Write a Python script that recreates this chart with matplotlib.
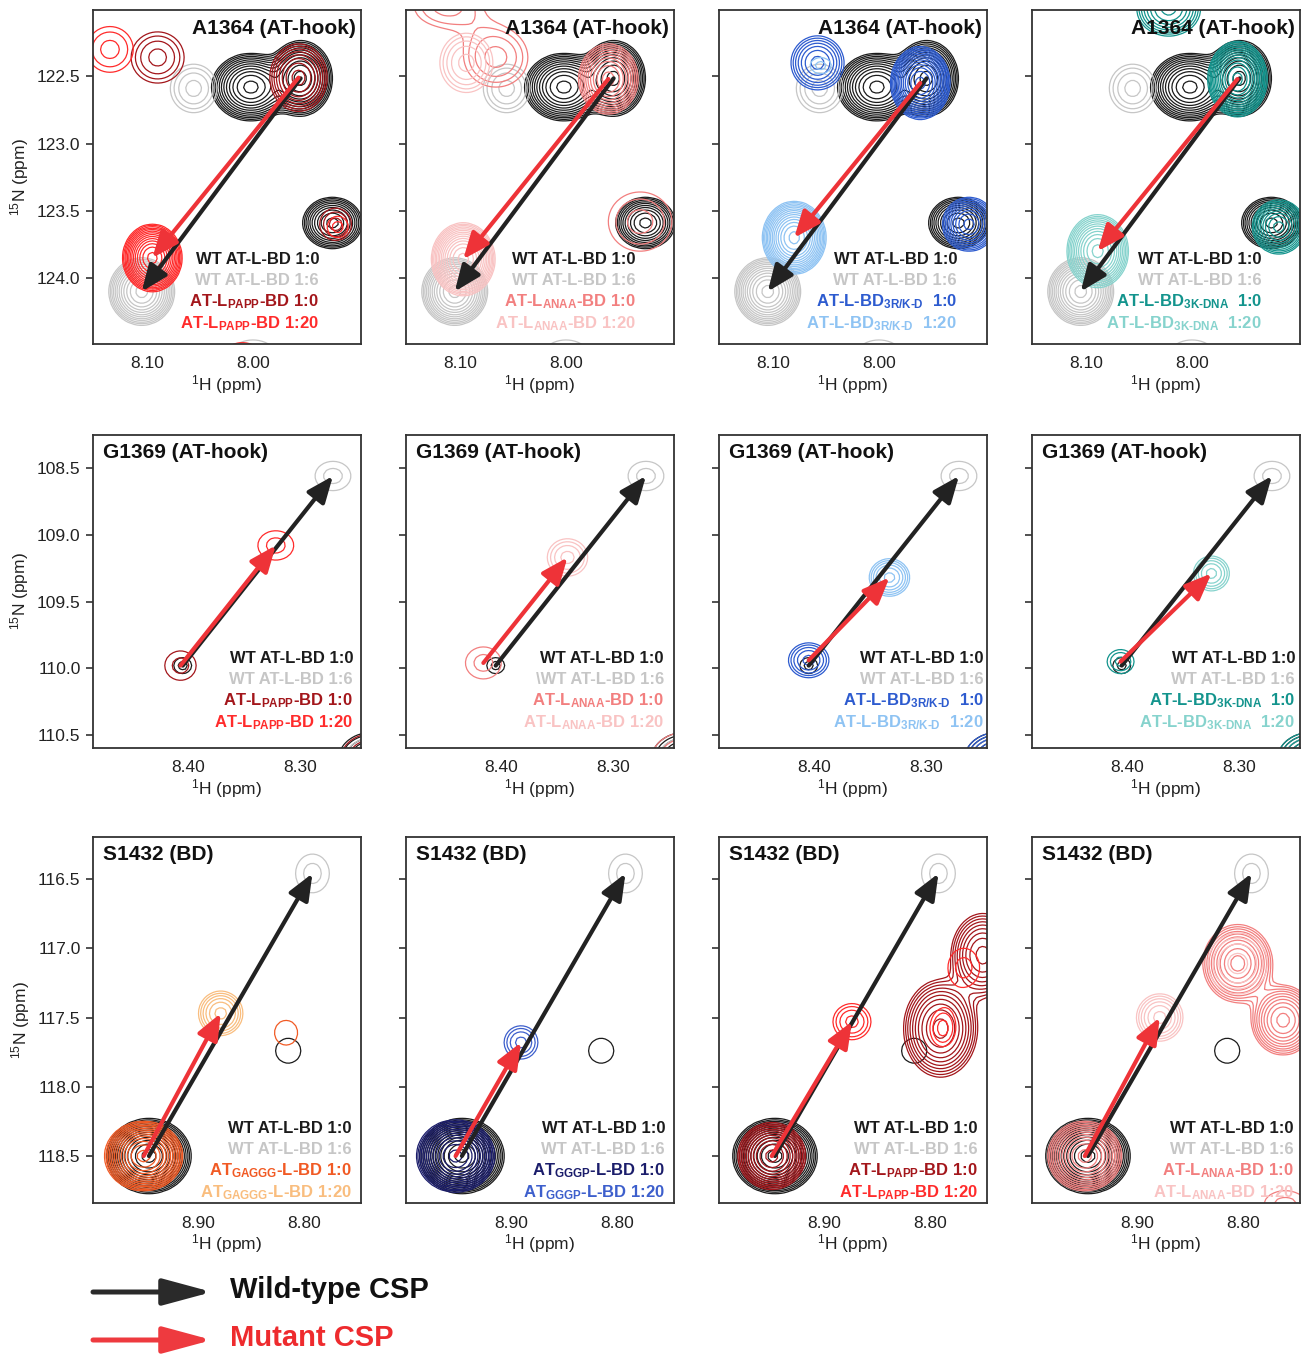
import numpy as np
import matplotlib.pyplot as plt
from matplotlib.patches import ArrowStyle

plt.rcParams['font.family'] = ['Liberation Sans', 'DejaVu Sans']
plt.rcParams['mathtext.fontset'] = 'custom'
plt.rcParams['mathtext.rm'] = 'Liberation Sans:bold'
plt.rcParams['mathtext.bf'] = 'Liberation Sans:bold'
plt.rcParams['mathtext.it'] = 'Liberation Sans:bold:italic'

# peaks: (1H ppm, 15N ppm, half-width 1H, half-width 15N, number of contours)
# first peak of each list is the tracked residue (arrow end points)
A1364_WT0 = [(7.955, 122.515, 0.030, 0.28, 12), (8.002, 122.58, 0.037, 0.25, 12),
             (7.925, 123.59, 0.028, 0.19, 10)]
A1364_WT6 = [(8.105, 124.10, 0.031, 0.25, 12), (8.056, 122.59, 0.022, 0.18, 4),
             (8.000, 124.62, 0.025, 0.16, 3)]
A1364_PAPP0 = [(7.957, 122.51, 0.027, 0.25, 8), (8.090, 122.36, 0.025, 0.19, 4),
               (7.922, 123.60, 0.015, 0.12, 3)]
A1364_PAPP20 = [(8.095, 123.85, 0.028, 0.25, 14), (8.135, 122.30, 0.022, 0.17, 3),
                (7.920, 123.62, 0.010, 0.08, 2), (8.010, 124.60, 0.020, 0.12, 2)]
A1364_ANAA0 = [(7.960, 122.52, 0.028, 0.26, 10), (8.066, 122.36, 0.030, 0.22, 4),
               (8.113, 121.98, 0.030, 0.15, 3), (7.930, 123.58, 0.030, 0.22, 3)]
A1364_ANAA20 = [(8.097, 123.86, 0.030, 0.27, 14), (8.094, 122.40, 0.025, 0.22, 5)]
A1364_RKD0 = [(7.961, 122.55, 0.028, 0.27, 14), (8.058, 122.40, 0.025, 0.20, 7),
              (7.915, 123.60, 0.025, 0.20, 10)]
A1364_RKD20 = [(8.080, 123.70, 0.030, 0.27, 14), (8.055, 122.42, 0.010, 0.06, 2)]
A1364_KDNA0 = [(7.957, 122.52, 0.028, 0.28, 14), (8.022, 122.00, 0.030, 0.20, 8),
               (7.918, 123.62, 0.025, 0.20, 10)]
A1364_KDNA20 = [(8.089, 123.80, 0.029, 0.27, 12)]

G1369_WT0 = [(8.405, 109.98, 0.008, 0.06, 2), (8.236, 110.68, 0.030, 0.20, 6)]
G1369_WT6 = [(8.271, 108.56, 0.016, 0.11, 2), (8.236, 110.70, 0.025, 0.18, 3)]
G1369_PAPP0 = [(8.407, 109.98, 0.014, 0.11, 2), (8.236, 110.68, 0.028, 0.19, 3)]
G1369_PAPP20 = [(8.322, 109.08, 0.016, 0.11, 2)]
G1369_ANAA0 = [(8.416, 109.96, 0.016, 0.12, 2), (8.236, 110.68, 0.030, 0.20, 3)]
G1369_ANAA20 = [(8.341, 109.17, 0.018, 0.14, 4)]
G1369_RKD0 = [(8.405, 109.94, 0.018, 0.13, 5), (8.236, 110.68, 0.030, 0.20, 6)]
G1369_RKD20 = [(8.333, 109.32, 0.018, 0.14, 6)]
G1369_KDNA0 = [(8.406, 109.95, 0.012, 0.09, 3), (8.236, 110.68, 0.030, 0.20, 6)]
G1369_KDNA20 = [(8.325, 109.29, 0.016, 0.13, 5)]

S1432_WT0 = [(8.947, 118.50, 0.040, 0.27, 14), (8.815, 117.74, 0.012, 0.09, 1)]
S1432_WT6 = [(8.792, 116.46, 0.016, 0.14, 2)]
S1432_GAGGG0 = [(8.952, 118.50, 0.037, 0.25, 14), (8.817, 117.61, 0.011, 0.09, 1)]
S1432_GAGGG20 = [(8.879, 117.47, 0.021, 0.16, 6)]
S1432_GGGP0 = [(8.953, 118.50, 0.037, 0.26, 14)]
S1432_GGGP20 = [(8.891, 117.68, 0.016, 0.12, 4)]
S1432_PAPP0 = [(8.950, 118.50, 0.032, 0.24, 12), (8.790, 117.58, 0.035, 0.35, 10),
               (8.750, 117.05, 0.030, 0.30, 9)]
S1432_PAPP20 = [(8.874, 117.53, 0.018, 0.13, 4), (8.788, 117.58, 0.012, 0.13, 3),
                (8.768, 117.14, 0.015, 0.14, 2)]
S1432_ANAA0 = [(8.950, 118.50, 0.035, 0.25, 12), (8.805, 117.11, 0.033, 0.28, 10),
               (8.762, 117.52, 0.030, 0.25, 10), (8.760, 118.85, 0.020, 0.10, 2)]
S1432_ANAA20 = [(8.879, 117.50, 0.022, 0.17, 6), (8.805, 117.11, 0.028, 0.22, 4)]

residues = ['A1364 (AT-hook)', 'G1369 (AT-hook)', 'S1432 (BD)']
row_xlim = [(8.151, 7.898), (8.485, 8.246), (9.000, 8.746)]
row_ylim = [(124.49, 122.007), (110.597, 108.253), (118.839, 116.197)]
row_xticks = [[8.10, 8.00], [8.40, 8.30], [8.90, 8.80]]
row_yticks = [[122.5, 123.0, 123.5, 124.0], [108.5, 109.0, 109.5, 110.0, 110.5],
              [116.5, 117.0, 117.5, 118.0, 118.5]]

BLACK, GRAY = '#1b1b1b', '#c6c6c6'
col_papp = ('#a3161b', '#ff2b2b')
col_anaa = ('#f27f7f', '#f9c3c3')
col_rkd = ('#2d5bcf', '#8ec3f3')
col_kdna = ('#13948d', '#86d3cd')
col_gaggg = ('#f15a24', '#f9bd7e')
col_gggp = ('#1b1d6b', '#3d5fcc')

lab_papp = 'AT-L$_{\\text{PAPP}}$-BD'
lab_anaa = 'AT-L$_{\\text{ANAA}}$-BD'
lab_rkd = 'AT-L-BD$_{\\text{3R/K-D}}$ '
lab_kdna = 'AT-L-BD$_{\\text{3K-DNA}}$ '
lab_gaggg = 'AT$_{\\text{GAGGG}}$-L-BD'
lab_gggp = 'AT$_{\\text{GGGP}}$-L-BD'

wt_peaks = [(A1364_WT0, A1364_WT6), (G1369_WT0, G1369_WT6), (S1432_WT0, S1432_WT6)]
mutants = [
    [(A1364_PAPP0, A1364_PAPP20, col_papp, lab_papp), (A1364_ANAA0, A1364_ANAA20, col_anaa, lab_anaa),
     (A1364_RKD0, A1364_RKD20, col_rkd, lab_rkd), (A1364_KDNA0, A1364_KDNA20, col_kdna, lab_kdna)],
    [(G1369_PAPP0, G1369_PAPP20, col_papp, lab_papp), (G1369_ANAA0, G1369_ANAA20, col_anaa, lab_anaa),
     (G1369_RKD0, G1369_RKD20, col_rkd, lab_rkd), (G1369_KDNA0, G1369_KDNA20, col_kdna, lab_kdna)],
    [(S1432_GAGGG0, S1432_GAGGG20, col_gaggg, lab_gaggg), (S1432_GGGP0, S1432_GGGP20, col_gggp, lab_gggp),
     (S1432_PAPP0, S1432_PAPP20, col_papp, lab_papp), (S1432_ANAA0, S1432_ANAA20, col_anaa, lab_anaa)],
]

Q = 1.28
LEVELS = Q ** np.arange(0, 30)


def spectrum(peaks, X, Y):
    Z = np.zeros_like(X)
    for x0, y0, rx, ry, n in peaks:
        a = Q ** (n - 1) * 1.1
        k = np.sqrt(2 * np.log(a))
        Z += a * np.exp(-0.5 * (((X - x0) * k / rx) ** 2 + ((Y - y0) * k / ry) ** 2))
    return Z


def csp_arrow(ax, p0, p1, color):
    ax.annotate('', xy=(p1[0], p1[1]), xytext=(p0[0], p0[1]), zorder=6,
                arrowprops=dict(arrowstyle=ArrowStyle('-|>', head_length=0.8, head_width=0.33),
                                mutation_scale=20, lw=3, color=color, shrinkA=0, shrinkB=0))


W, H = 1304, 1355
fig = plt.figure(figsize=(W / 100, H / 100), dpi=100)
col_left = [93, 406, 719, 1032]
col_w = 268
row_top = [10, 435, 837]
row_bot = [344, 748, 1203]
leg_right = [[42, 38, 30, 38], [8, 10, 3, 5], [9, 9, 9, 6]]
leg_top = [248, 222, 290]

for r in range(3):
    h = row_bot[r] - row_top[r]
    wt0, wt6 = wt_peaks[r]
    for c in range(4):
        ax = fig.add_axes([col_left[c] / W, 1 - row_bot[r] / H, col_w / W, h / H])
        x0, x1 = row_xlim[r]
        y0, y1 = row_ylim[r]
        xs = np.linspace(x0 + 0.03, x1 - 0.03, 110)
        ys = np.linspace(y0 + 0.3, y1 - 0.3, 110)
        X, Y = np.meshgrid(xs, ys)
        m0, m20, mcol, mlab = mutants[r][c]
        for peaks, col in [(wt0, BLACK), (wt6, GRAY), (m0, mcol[0]), (m20, mcol[1])]:
            ax.contour(X, Y, spectrum(peaks, X, Y), levels=LEVELS, colors=col, linewidths=0.9)
        csp_arrow(ax, wt0[0], wt6[0], '#222222')
        csp_arrow(ax, m0[0], m20[0], '#ee3338')

        ax.set_xlim(x0, x1)
        ax.set_ylim(y0, y1)
        ax.set_xticks(row_xticks[r])
        ax.set_xticklabels(['%.2f' % v for v in row_xticks[r]])
        ax.set_yticks(row_yticks[r])
        ax.set_yticklabels(['%.1f' % v for v in row_yticks[r]])
        ax.tick_params(axis='x', length=0, pad=9, labelsize=12.5, colors='#222222')
        ax.tick_params(axis='y', length=5, width=1.1, pad=4, labelsize=12.5, colors='#222222',
                       labelleft=(c == 0))
        for s in ax.spines.values():
            s.set_linewidth(1.3)
            s.set_color('#333333')
        ax.set_xlabel('$^{\\mathregular{1}}$H (ppm)', fontsize=12.5, labelpad=1, color='#222222')
        if c == 0:
            ax.set_ylabel('$^{\\mathregular{15}}$N (ppm)', fontsize=12.5, labelpad=4, color='#222222')

        if r == 0:
            ax.text(1 - 5 / col_w, 1 - 18 / h, residues[r], transform=ax.transAxes, ha='right',
                    va='center', fontsize=15, fontweight='bold', color='#111111', zorder=7)
        else:
            ax.text(10 / col_w, 1 - 18 / h, residues[r], transform=ax.transAxes, ha='left',
                    va='center', fontsize=15, fontweight='bold', color='#111111', zorder=7)

        wt6_lab = '\\WT AT-L-BD 1:6' if (r == 1 and c == 1) else 'WT AT-L-BD 1:6'
        lines = [('WT AT-L-BD 1:0', BLACK), (wt6_lab, GRAY),
                 (mlab + ' 1:0', mcol[0]), (mlab + ' 1:20', mcol[1])]
        for i, (s, col) in enumerate(lines):
            ax.annotate(s, xy=(1, 1), xycoords='axes fraction',
                        xytext=(-leg_right[r][c] * 0.72, -(leg_top[r] + 6 + i * 21.3) * 0.72),
                        textcoords='offset points', ha='right', va='baseline',
                        fontsize=12, fontweight='bold', color=col, zorder=7)

# bottom key
lax = fig.add_axes([0, 0, 1, 1], zorder=-1)
lax.set_xlim(0, W)
lax.set_ylim(H, 0)
lax.axis('off')
for yy, col, txt, tcol in [(1292, '#2a2a2a', 'Wild-type CSP', '#111111'),
                           (1340, '#ee3a3f', 'Mutant CSP', '#ee2b2e')]:
    lax.annotate('', xy=(212, yy), xytext=(93, yy),
                 arrowprops=dict(arrowstyle=ArrowStyle('-|>', head_length=1.0, head_width=0.27),
                                 mutation_scale=30, lw=3.6, color=col, shrinkA=0, shrinkB=0))
    lax.text(230, yy - 2, txt, fontsize=21, fontweight='bold', color=tcol, va='center', ha='left')

fig.savefig('out.png', dpi=100)
